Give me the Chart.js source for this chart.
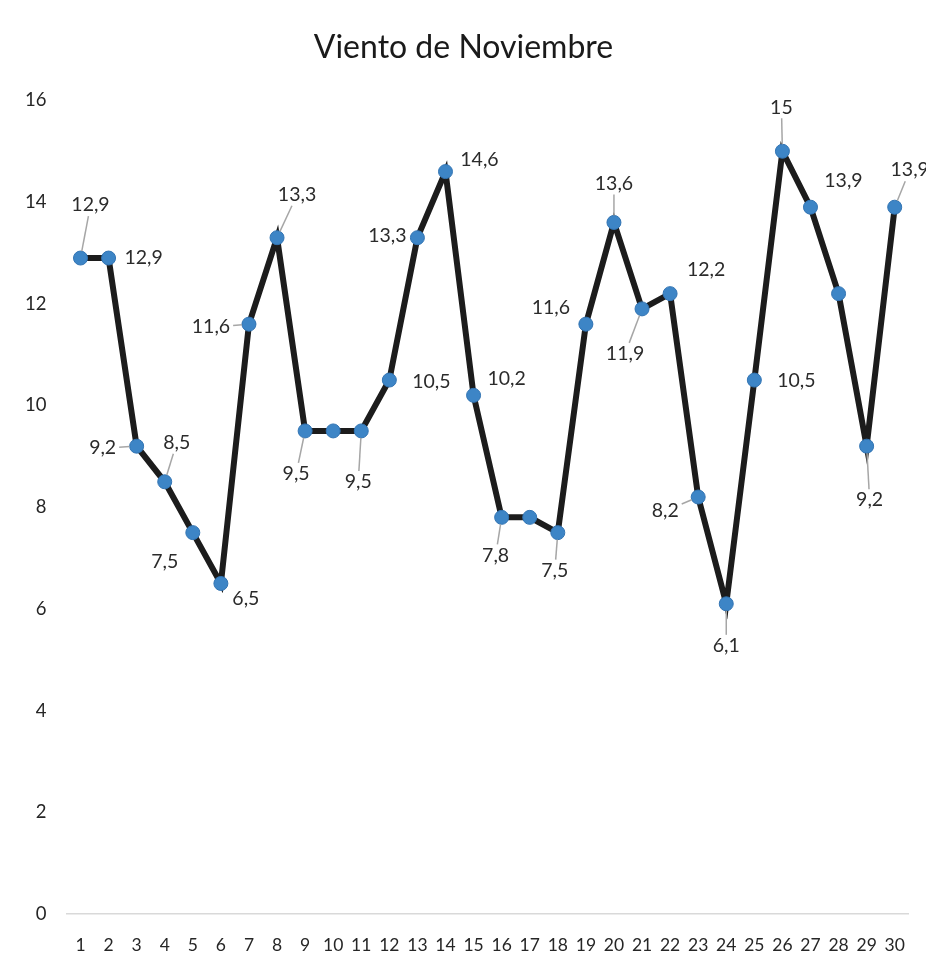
<!DOCTYPE html>
<html>
<head>
<meta charset="utf-8">
<script src="https://cdn.jsdelivr.net/npm/chart.js@4"></script>
<style>
  html, body { margin: 0; padding: 0; background: #fff; }
  #wrap { width: 926px; height: 966px; position: relative; }
</style>
</head>
<body>
<div id="wrap"><canvas id="chartViento"></canvas></div>
<script>
// ===== VIENTO DE NOVIEMBRE =====

const dias = ['1','2','3','4','5','6','7','8','9','10','11','12','13','14','15',
              '16','17','18','19','20','21','22','23','24','25','26','27','28','29','30'];

const viento = [12.9, 12.9, 9.2, 8.5, 7.5, 6.5, 11.6, 13.3, 9.5, 9.5,
                9.5, 10.5, 13.3, 14.6, 10.2, 7.8, 7.8, 7.5, 11.6, 13.6,
                11.9, 12.2, 8.2, 6.1, 10.5, 15, 13.9, 12.2, 9.2, 13.9];

const yTicks = [0, 2, 4, 6, 8, 10, 12, 14, 16];

// where each data label sits relative to its point (px), null = no label
const labelOffsets = [
  [10, -53], [35, 0], [-34, 2], [12, -39], [-28, 29], [25, 15], [-38, 3], [20, -43], [-9, 43], null,
  [-3, 51], [42, 2], [-30, -2], [34, -12], [33, -17], [-6, 38], null, [-3, 38], [-35, -16], [0, -39],
  [-17, 45], [36, -24], [-33, 14], [0, 42], [42, 1], [-1, -44], [33, -26], null, [3, 54], [15, -37]
];

// which labels get a grey leader line
const leaders = [
  true, false, true, true, false, false, true, true, true, false,
  true, false, false, false, false, true, false, true, false, true,
  true, false, true, true, false, true, false, false, true, true
];

const fmt = v => String(v).replace('.', ',');

const pluginLabels = {
  id: 'pointLabels',
  afterDatasetsDraw(chart) {
    const { ctx } = chart;
    const meta = chart.getDatasetMeta(0);
    ctx.save();
    ctx.font = '19.5px Lato, sans-serif';
    ctx.textAlign = 'center';
    ctx.textBaseline = 'middle';
    meta.data.forEach((pt, i) => {
      const off = labelOffsets[i];
      if (!off) return;
      const txt = fmt(viento[i]);
      const lx = pt.x + off[0];
      const ly = pt.y + off[1];
      if (leaders[i]) {
        const len = Math.hypot(off[0], off[1]);
        const ux = off[0] / len, uy = off[1] / len;
        const hw = ctx.measureText(txt).width / 2 + 3;
        const hh = 11;
        const s = Math.min(
          Math.abs(off[0]) > 0.01 ? hw / Math.abs(off[0]) : Infinity,
          Math.abs(off[1]) > 0.01 ? hh / Math.abs(off[1]) : Infinity
        );
        ctx.strokeStyle = '#a6a6a6';
        ctx.lineWidth = 1.5;
        ctx.beginPath();
        ctx.moveTo(pt.x + ux * 7, pt.y + uy * 7);
        ctx.lineTo(lx - off[0] * s, ly - off[1] * s);
        ctx.stroke();
      }
      ctx.fillStyle = '#2b2b2b';
      ctx.fillText(txt, lx, ly);
    });
    ctx.restore();
  }
};

(function() {
  const el = document.getElementById('chartViento');
  new Chart(el, {
    type: 'line',
    data: {
      labels: dias,
      datasets: [{
        label: 'Viento',
        data: viento,
        borderColor: '#1c1c1c',
        borderWidth: 6,
        tension: 0,
        pointRadius: 7,
        pointBackgroundColor: '#3d85c6',
        pointBorderColor: '#3274b3',
        pointBorderWidth: 1,
        clip: false
      }]
    },
    options: {
      responsive: true, maintainAspectRatio: false,
      animation: false,
      // tick padding counts twice in axis size, hence the tight outer padding
      layout: { padding: { left: 5, right: 4, top: 0, bottom: -11 } },
      plugins: {
        legend: { display: false },
        tooltip: { enabled: false },
        title: {
          display: true,
          text: 'Viento de Noviembre',
          fullSize: true,
          color: '#1a1a1a',
          font: { family: 'Lato', size: 32, weight: 'normal' },
          padding: { top: 28, bottom: 34 }
        }
      },
      scales: {
        x: {
          offset: true,
          grid: { display: false, drawTicks: false },
          border: { display: true, color: '#d9d9d9', width: 1.5 },
          ticks: {
            autoSkip: false, maxRotation: 0, padding: 21,
            color: '#262626', font: { family: 'Lato', size: 17.5 }
          }
        },
        y: {
          min: 0, max: 16,
          afterBuildTicks: axis => { axis.ticks = yTicks.map(v => ({ value: v })); },
          grid: { display: false, drawTicks: false },
          border: { display: false },
          ticks: {
            padding: 20,
            color: '#262626', font: { family: 'Lato', size: 18.5 }
          }
        }
      }
    },
    plugins: [pluginLabels]
  });
})();
</script>
</body>
</html>
